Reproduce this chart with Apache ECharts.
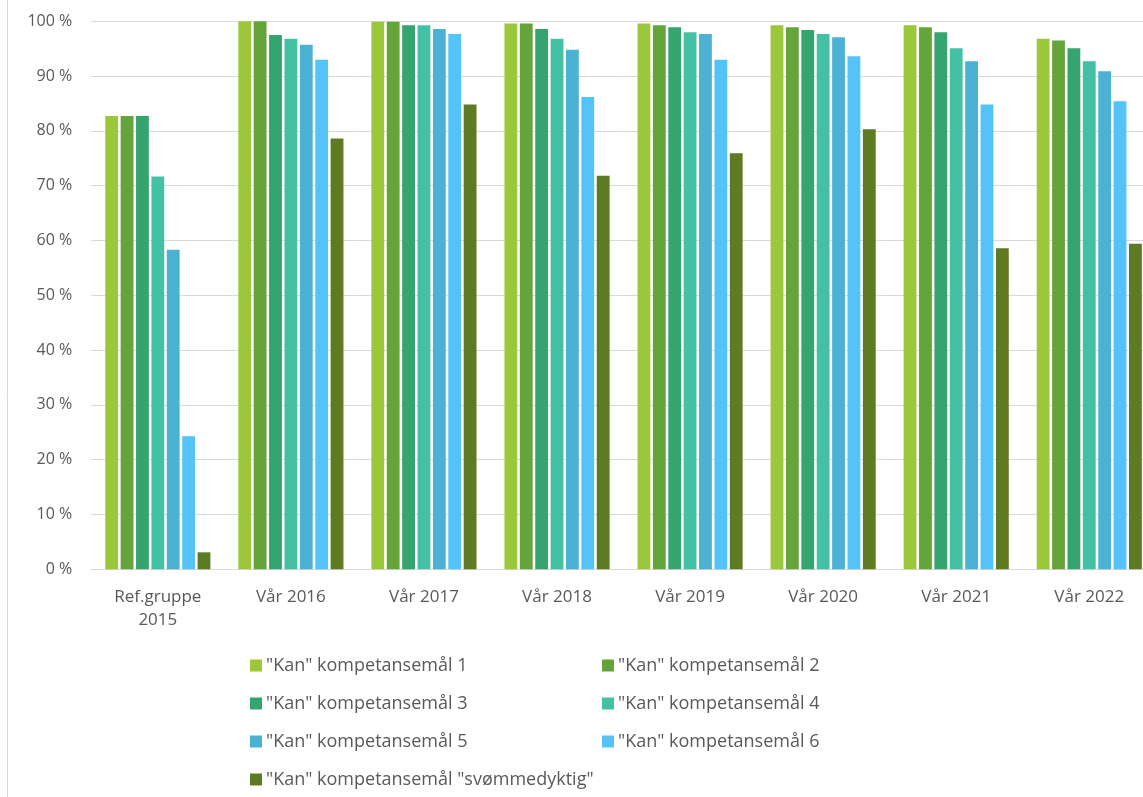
<!DOCTYPE html>
<html>
<head>
<meta charset="utf-8">
<script src="https://cdn.jsdelivr.net/npm/echarts@6/dist/echarts.min.js"></script>
<style>html,body{margin:0;padding:0;background:#fff;}#c{width:1143px;height:797px;}</style>
</head>
<body>
<div id="c"></div>
<script>
const categories = ['Ref.gruppe\n2015', 'Vår 2016', 'Vår 2017', 'Vår 2018', 'Vår 2019', 'Vår 2020', 'Vår 2021', 'Vår 2022'];
const seriesNames = ['"Kan" kompetansemål 1', '"Kan" kompetansemål 2', '"Kan" kompetansemål 3', '"Kan" kompetansemål 4', '"Kan" kompetansemål 5', '"Kan" kompetansemål 6', '"Kan" kompetansemål "svømmedyktig"'];
const mal1 = [82.7, 100, 99.9, 99.6, 99.6, 99.3, 99.3, 96.8];
const mal2 = [82.7, 100, 99.9, 99.6, 99.3, 98.9, 98.9, 96.5];
const mal3 = [82.7, 97.5, 99.3, 98.6, 98.9, 98.4, 98.0, 95.1];
const mal4 = [71.7, 96.8, 99.3, 96.8, 98.0, 97.7, 95.1, 92.7];
const mal5 = [58.3, 95.7, 98.6, 94.8, 97.7, 97.1, 92.7, 90.9];
const mal6 = [24.3, 93.0, 97.7, 86.2, 93.0, 93.6, 84.8, 85.4];
const svommedyktig = [3.1, 78.6, 84.8, 71.8, 75.9, 80.3, 58.6, 59.4];
const yTicks = [0, 10, 20, 30, 40, 50, 60, 70, 80, 90, 100];

const values = [mal1, mal2, mal3, mal4, mal5, mal6, svommedyktig];
const colors = ['#9BC83A', '#64A43A', '#35A46E', '#44C1A5', '#4BB2D3', '#53C3F8', '#5E7A23'];
const font = 'Open Sans';
const textColor = '#595959';

const legendPos = [
  [250, 655.5], [602, 655.5],
  [250, 693.5], [602, 693.5],
  [250, 731.5], [602, 731.5],
  [250, 769.5]
];

const chart = echarts.init(document.getElementById('c'), null, {renderer: 'canvas'});
chart.setOption({
  backgroundColor: '#fff',
  animation: false,
  grid: {left: 91.3, right: -12.8, top: 21.3, bottom: 227.7, containLabel: false, outerBoundsMode: 'none'},
  xAxis: {
    type: 'category',
    data: categories,
    axisLine: {lineStyle: {color: '#d9d9d9', width: 1}},
    axisTick: {show: false},
    axisLabel: {color: textColor, fontFamily: font, fontSize: 17, lineHeight: 23, margin: 16, interval: 0}
  },
  yAxis: {
    type: 'value',
    min: yTicks[0],
    max: yTicks[yTicks.length - 1],
    interval: 10,
    axisLine: {show: false},
    axisTick: {show: false},
    splitLine: {lineStyle: {color: '#d9d9d9', width: 1}},
    axisLabel: {color: textColor, fontFamily: font, fontSize: 16, margin: 19, formatter: '{value} %'}
  },
  legend: seriesNames.map((n, i) => ({
    data: [n],
    left: legendPos[i][0],
    top: legendPos[i][1],
    padding: 0,
    icon: 'rect',
    itemWidth: 12,
    itemHeight: 12,
    itemGap: 0,
    selectedMode: false,
    textStyle: {color: textColor, fontFamily: font, fontSize: 18, lineHeight: 20, padding: [0, 0, 0, -1]}
  })),
  graphic: [{
    type: 'line',
    shape: {x1: 7.5, y1: 0, x2: 7.5, y2: 797},
    style: {stroke: '#d9d9d9', lineWidth: 1}
  }],
  series: seriesNames.map((n, i) => ({
    name: n,
    type: 'bar',
    data: values[i],
    barGap: '20%',
    barCategoryGap: '21%',
    itemStyle: {color: colors[i]}
  }))
});
</script>
</body>
</html>
